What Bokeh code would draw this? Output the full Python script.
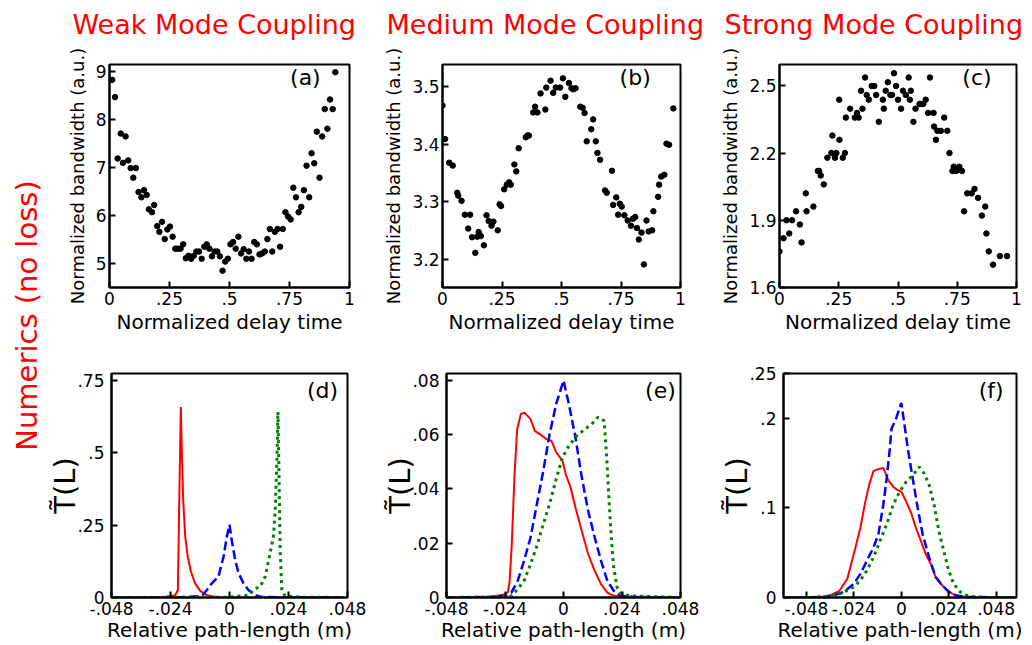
from bokeh.plotting import figure
from bokeh.models import FixedTicker, Label, Range1d, Title
from bokeh.layouts import row, column
from bokeh.embed import file_html
from bokeh.resources import INLINE

FONT = "DejaVu Sans"

# ---------------- data ----------------
col_titles = ["Weak Mode Coupling", "Medium Mode Coupling", "Strong Mode Coupling"]
row_title = "Numerics (no loss)"
panel_tags = ["(a)", "(b)", "(c)", "(d)", "(e)", "(f)"]

# (a) weak coupling scatter
a_x = [0.011, 0.023, 0.034, 0.047, 0.056, 0.067, 0.078, 0.088, 0.099, 0.110, 0.121, 0.133, 0.144, 0.155,
       0.164, 0.177, 0.186, 0.199, 0.208, 0.219, 0.230, 0.241, 0.252, 0.263, 0.274, 0.284, 0.296, 0.307,
       0.318, 0.329, 0.340, 0.351, 0.362, 0.373, 0.384, 0.395, 0.405, 0.416, 0.427, 0.438, 0.449, 0.460,
       0.471, 0.482, 0.493, 0.504, 0.515, 0.526, 0.537, 0.548, 0.559, 0.570, 0.581, 0.592, 0.603, 0.614,
       0.625, 0.636, 0.647, 0.658, 0.668, 0.678, 0.689, 0.700, 0.711, 0.722, 0.733, 0.744, 0.755, 0.766,
       0.777, 0.788, 0.799, 0.810, 0.821, 0.832, 0.842, 0.853, 0.864, 0.875, 0.886, 0.897, 0.908, 0.919,
       0.930, 0.941]
a_y = [8.83, 8.47, 7.19, 7.71, 7.10, 7.65, 7.15, 6.99, 6.79, 6.99, 6.49, 6.38, 6.53, 6.43,
       6.13, 6.07, 6.22, 5.78, 5.66, 5.87, 5.51, 5.71, 5.77, 5.56, 5.31, 5.31, 5.31, 5.40,
       5.11, 5.16, 5.10, 5.16, 5.25, 5.25, 5.10, 5.35, 5.40, 5.31, 5.15, 5.25, 5.25, 5.15,
       4.85, 5.04, 5.10, 5.40, 5.45, 5.31, 5.56, 5.21, 5.30, 5.10, 5.25, 5.10, 5.45, 5.40,
       5.19, 5.21, 5.25, 5.51, 5.72, 5.25, 5.66, 5.72, 5.35, 5.72, 6.07, 5.98, 5.92, 6.58,
       6.38, 6.07, 6.18, 6.53, 7.04, 6.38, 7.30, 7.09, 7.75, 6.79, 7.65, 8.22, 7.81, 8.42,
       8.22, 8.99]

# (b) medium coupling scatter
b_x = [0.000, 0.011, 0.028, 0.043, 0.062, 0.066, 0.080, 0.094, 0.108, 0.116, 0.124, 0.138, 0.146, 0.152,
       0.161, 0.174, 0.185, 0.194, 0.206, 0.214, 0.232, 0.240, 0.246, 0.259, 0.270, 0.280, 0.287, 0.302,
       0.310, 0.320, 0.350, 0.357, 0.363, 0.381, 0.389, 0.399, 0.412, 0.432, 0.436, 0.454, 0.465, 0.476,
       0.494, 0.506, 0.516, 0.531, 0.542, 0.549, 0.559, 0.579, 0.589, 0.597, 0.606, 0.625, 0.633, 0.644,
       0.651, 0.662, 0.683, 0.690, 0.712, 0.717, 0.730, 0.738, 0.745, 0.753, 0.764, 0.778, 0.792, 0.800,
       0.810, 0.817, 0.825, 0.836, 0.846, 0.857, 0.866, 0.881, 0.886, 0.906, 0.910, 0.919, 0.932, 0.941,
       0.952, 0.970]
b_y = [3.467, 3.409, 3.368, 3.363, 3.316, 3.311, 3.302, 3.278, 3.254, 3.278, 3.239, 3.212, 3.240, 3.248,
       3.241, 3.225, 3.277, 3.267, 3.259, 3.266, 3.251, 3.296, 3.293, 3.322, 3.330, 3.334, 3.330, 3.365,
       3.353, 3.393, 3.412, 3.415, 3.415, 3.455, 3.465, 3.455, 3.488, 3.460, 3.498, 3.510, 3.489, 3.498,
       3.498, 3.514, 3.482, 3.506, 3.497, 3.495, 3.497, 3.465, 3.463, 3.454, 3.405, 3.426, 3.443, 3.405,
       3.385, 3.373, 3.320, 3.316, 3.354, 3.295, 3.308, 3.278, 3.297, 3.292, 3.277, 3.268, 3.259, 3.271,
       3.274, 3.255, 3.235, 3.247, 3.192, 3.268, 3.249, 3.251, 3.284, 3.309, 3.330, 3.344, 3.347, 3.401,
       3.399, 3.462]

# (c) strong coupling scatter
c_x = [0.000, 0.017, 0.029, 0.041, 0.053, 0.070, 0.086, 0.093, 0.111, 0.114, 0.143, 0.162, 0.167, 0.174,
       0.187, 0.202, 0.219, 0.223, 0.234, 0.240, 0.253, 0.252, 0.267, 0.276, 0.280, 0.298, 0.318, 0.327,
       0.334, 0.344, 0.350, 0.361, 0.368, 0.377, 0.389, 0.400, 0.408, 0.419, 0.436, 0.440, 0.448, 0.457,
       0.468, 0.475, 0.483, 0.492, 0.500, 0.513, 0.521, 0.533, 0.545, 0.550, 0.554, 0.565, 0.574, 0.591,
       0.596, 0.607, 0.617, 0.627, 0.635, 0.650, 0.652, 0.660, 0.666, 0.681, 0.695, 0.708, 0.717, 0.730,
       0.735, 0.745, 0.759, 0.770, 0.779, 0.792, 0.811, 0.823, 0.838, 0.854, 0.868, 0.873, 0.883, 0.901,
       0.930, 0.960]
c_y = [1.761, 1.820, 1.900, 1.841, 1.900, 1.940, 1.881, 1.801, 2.020, 1.940, 1.961, 2.120, 2.120, 2.100,
       2.060, 2.179, 2.200, 2.278, 2.179, 2.200, 2.259, 2.438, 2.179, 2.200, 2.358, 2.398, 2.358, 2.379,
       2.358, 2.478, 2.398, 2.537, 2.459, 2.438, 2.499, 2.499, 2.459, 2.339, 2.438, 2.398, 2.478, 2.516,
       2.459, 2.459, 2.556, 2.499, 2.438, 2.398, 2.478, 2.459, 2.537, 2.438, 2.478, 2.339, 2.398, 2.419,
       2.419, 2.419, 2.438, 2.379, 2.537, 2.379, 2.318, 2.259, 2.299, 2.299, 2.358, 2.299, 2.200, 2.120,
       2.139, 2.120, 2.139, 2.120, 1.940, 2.020, 2.020, 2.040, 2.000, 1.921, 1.961, 1.841, 1.761, 1.702,
       1.740, 1.740]

# (d) weak coupling T(L)
d_red_x = [-0.048, -0.035, -0.026, -0.0221, -0.0210, -0.0205, -0.0198, -0.0194, -0.01885, -0.0180, -0.0170,
           -0.0157, -0.0140, -0.0119, -0.0092, -0.0072, -0.004, 0.0, 0.048]
d_red_y = [0.0, 0.001, 0.003, 0.008, 0.026, 0.30, 0.659, 0.51, 0.34, 0.21, 0.142,
           0.09, 0.049, 0.023, 0.008, 0.004, 0.001, 0.0, 0.0]
d_blue_x = [-0.048, -0.02, -0.0113, -0.0092, -0.0072, -0.0045, -0.0024, -0.0011, 0.0, 0.001, 0.0023,
            0.0037, 0.0057, 0.0077, 0.0104, 0.013, 0.02, 0.048]
d_blue_y = [0.0, 0.001, 0.005, 0.026, 0.049, 0.072, 0.142, 0.21, 0.252, 0.194, 0.130,
            0.084, 0.049, 0.026, 0.008, 0.002, 0.001, 0.0]
d_green_x = [-0.048, 0.0, 0.0077, 0.0104, 0.0125, 0.0145, 0.0165, 0.0179, 0.0186, 0.0193, 0.0197,
             0.0201, 0.0206, 0.0213, 0.0226, 0.03, 0.048]
d_green_y = [0.0, 0.001, 0.008, 0.031, 0.037, 0.072, 0.153, 0.212, 0.305, 0.479, 0.642,
             0.45, 0.165, 0.026, 0.005, 0.001, 0.0]

# (e) medium coupling T(L)
e_red_x = [-0.048, -0.03, -0.0247, -0.0228, -0.0221, -0.0212, -0.0201, -0.0190, -0.0175, -0.0160, -0.0135,
           -0.0118, -0.0096, -0.007, -0.005, -0.003, -0.0004, 0.0009, 0.0029, 0.0049, 0.0075, 0.0101,
           0.0128, 0.0154, 0.018, 0.0206, 0.03, 0.048]
e_red_y = [0.0, 0.0003, 0.001, 0.002, 0.006, 0.020, 0.045, 0.062, 0.0675, 0.068, 0.0656,
           0.0613, 0.060, 0.0583, 0.0577, 0.0534, 0.0503, 0.0454, 0.0405, 0.0331, 0.0245, 0.016,
           0.0098, 0.0049, 0.0018, 0.0006, 0.0, 0.0]
e_blue_x = [-0.048, -0.03, -0.024, -0.0214, -0.0188, -0.0162, -0.0135, -0.0109, -0.0083, -0.0057, -0.003,
            0.0, 0.0022, 0.0049, 0.0075, 0.0101, 0.0128, 0.0154, 0.018, 0.0206, 0.0233, 0.03, 0.048]
e_blue_y = [0.0, 0.0002, 0.0006, 0.0018, 0.0061, 0.0135, 0.0221, 0.0344, 0.0466, 0.0601, 0.0712,
            0.0798, 0.0712, 0.0589, 0.0442, 0.0319, 0.0221, 0.0135, 0.0061, 0.0025, 0.0006, 0.0002, 0.0]
e_green_x = [-0.048, -0.03, -0.0214, -0.0188, -0.0162, -0.0135, -0.0109, -0.0083, -0.0057, -0.003, -0.0004,
             0.0022, 0.0055, 0.0088, 0.0114, 0.0141, 0.0167, 0.0178, 0.0187, 0.0196, 0.0206, 0.022,
             0.0233, 0.0272, 0.048]
e_green_y = [0.0, 0.0002, 0.0006, 0.0031, 0.0061, 0.0123, 0.019, 0.027, 0.0344, 0.0436, 0.0515,
             0.0558, 0.0595, 0.062, 0.0636, 0.0663, 0.065, 0.0503, 0.0356, 0.0221, 0.011, 0.0037,
             0.0018, 0.0006, 0.0]

# (f) strong coupling T(L)
f_red_x = [-0.06, -0.0405, -0.0356, -0.0314, -0.0273, -0.0232, -0.0207, -0.0182, -0.0161, -0.0141, -0.0121,
           -0.0091, -0.0066, -0.0041, -0.0025, 0.0, 0.0025, 0.005, 0.0074, 0.0099, 0.0124, 0.0149,
           0.0174, 0.0199, 0.0223, 0.0257, 0.029, 0.034, 0.06]
f_red_y = [0.0, 0.0007, 0.0026, 0.0073, 0.0209, 0.0558, 0.0778, 0.107, 0.127, 0.141, 0.143,
           0.1446, 0.131, 0.1237, 0.1207, 0.118, 0.107, 0.0943, 0.0778, 0.0631, 0.0484, 0.0374,
           0.0228, 0.0154, 0.0099, 0.0044, 0.0015, 0.0, 0.0]
f_blue_x = [-0.06, -0.0405, -0.034, -0.029, -0.024, -0.0207, -0.0174, -0.0141, -0.0116, -0.0091, -0.0074,
            -0.0058, -0.005, -0.0025, 0.0, 0.0017, 0.0033, 0.0058, 0.0083, 0.0108, 0.0141, 0.0174,
            0.0207, 0.024, 0.0273, 0.0323, 0.06]
f_blue_y = [0.0, 0.0, 0.0026, 0.0062, 0.0154, 0.0264, 0.0411, 0.0558, 0.0705, 0.1035, 0.1328,
            0.1659, 0.188, 0.2007, 0.2172, 0.1916, 0.1659, 0.1328, 0.0998, 0.0705, 0.0448, 0.0228,
            0.0136, 0.0062, 0.0026, 0.0007, 0.0]
f_green_x = [-0.06, -0.0455, -0.0372, -0.0306, -0.024, -0.0207, -0.0174, -0.0141, -0.0108, -0.0074, -0.0041,
             -0.0008, 0.0025, 0.0058, 0.0091, 0.0116, 0.0141, 0.0166, 0.019, 0.0215, 0.024, 0.0265,
             0.0298, 0.0339, 0.0422, 0.06]
f_green_y = [0.0, 0.0, 0.0015, 0.0044, 0.0117, 0.0191, 0.0301, 0.0448, 0.0631, 0.0815, 0.1035,
             0.1182, 0.1292, 0.1365, 0.1457, 0.1383, 0.1255, 0.1035, 0.0741, 0.0521, 0.0301, 0.0154,
             0.0062, 0.0015, 0.0, 0.0]

# ticks
delay_ticks = [0, 0.25, 0.5, 0.75, 1]
delay_labels = ["0", ".25", ".5", ".75", "1"]
a_yticks = [5, 6, 7, 8, 9]
a_ylabels = ["5", "6", "7", "8", "9"]
b_yticks = [3.2, 3.3, 3.4, 3.5]
b_ylabels = ["3.2", "3.3", "3.4", "3.5"]
c_yticks = [1.6, 1.9, 2.2, 2.5]
c_ylabels = ["1.6", "1.9", "2.2", "2.5"]
path_ticks = [-0.048, -0.024, 0, 0.024, 0.048]
path_labels = ["-.048", "-.024", "0", ".024", ".048"]
d_yticks = [0, 0.25, 0.5, 0.75]
d_ylabels = ["0", ".25", ".5", ".75"]
e_yticks = [0, 0.02, 0.04, 0.06, 0.08]
e_ylabels = ["0", ".02", ".04", ".06", ".08"]
f_yticks = [0, 0.1, 0.2, 0.25]
f_ylabels = ["0", ".1", ".2", ".25"]

TOP_XLABEL = "Normalized delay time"
TOP_YLABEL = "Normalized bandwidth (a.u.)"
BOT_XLABEL = "Relative path-length (m)"
BOT_YLABEL = "T\u0303(L)"


def make_fig(w, h, bl, br, bt, bb, xr, yr):
    p = figure(width=w, height=h, min_border_left=bl, min_border_right=br,
               min_border_top=bt, min_border_bottom=bb,
               x_range=Range1d(*xr), y_range=Range1d(*yr),
               output_backend="svg", toolbar_location=None)
    p.grid.visible = False
    p.outline_line_color = "black"
    p.outline_line_width = 2
    p.outline_line_alpha = 1
    p.background_fill_color = "white"
    p.border_fill_color = "white"
    for ax in (p.xaxis[0], p.yaxis[0]):
        ax.axis_line_width = 2
        ax.axis_line_color = "black"
        ax.major_tick_in = 6
        ax.major_tick_out = 0
        ax.major_tick_line_width = 2
        ax.minor_tick_line_color = None
        ax.major_label_text_font = FONT
        ax.major_label_text_font_size = "17px"
        ax.major_label_text_color = "black"
        ax.axis_label_text_font = FONT
        ax.axis_label_text_font_style = "normal"
        ax.axis_label_text_color = "black"
    return p


def set_ticks(ax, ticks, labels):
    ax.ticker = FixedTicker(ticks=ticks)
    ax.major_label_overrides = {t: l for t, l in zip(ticks, labels)}


def add_tag(p, text, fx, fy):
    xr, yr = p.x_range, p.y_range
    p.add_layout(Label(x=xr.end - fx * (xr.end - xr.start), y=yr.end - fy * (yr.end - yr.start),
                       text=text, text_align="right", text_baseline="top",
                       text_font=FONT, text_font_size="22px", text_color="black"))


def top_panel(w, bl, br, xs, ys, yr, yticks, ylabels, title, toff, tag, tfx):
    p = make_fig(w, 345, bl, br, 64, 58, (0, 1), yr)
    # blank spacer between the frame and the column heading
    p.add_layout(Title(text=" ", text_font_size="1px", standoff=22), "above")
    p.title.text = title
    p.title.text_color = "red"
    p.title.text_font = FONT
    p.title.text_font_size = "27px"
    p.title.text_font_style = "normal"
    p.title.align = "left"
    p.title.vertical_align = "bottom"
    p.title.offset = toff
    p.title.standoff = 0
    p.scatter(xs, ys, size=5.5, color="black")
    set_ticks(p.xaxis[0], delay_ticks, delay_labels)
    set_ticks(p.yaxis[0], yticks, ylabels)
    p.xaxis.axis_label = TOP_XLABEL
    p.xaxis.axis_label_text_font_size = "20px"
    p.xaxis.major_label_standoff = 4
    p.xaxis.axis_label_standoff = 2
    p.yaxis.axis_label = TOP_YLABEL
    p.yaxis.axis_label_text_font_size = "18px"
    p.yaxis.major_label_standoff = 3
    p.yaxis.axis_label_standoff = 5
    add_tag(p, tag, tfx, 0.0)
    return p


def bot_panel(w, bl, br, xr, curves, yr, yticks, ylabels, tag, tfx, tfy):
    p = make_fig(w, 300, bl, br, 28, 48, xr, yr)
    rx, ry, bx, by, gx, gy = curves
    p.line(rx, ry, line_color="#ff0000", line_width=2)
    p.line(bx, by, line_color="#0000ff", line_width=2.5, line_dash="9 4")
    p.line(gx, gy, line_color="#008000", line_width=3, line_dash="3 4")
    set_ticks(p.xaxis[0], path_ticks, path_labels)
    set_ticks(p.yaxis[0], yticks, ylabels)
    p.xaxis.axis_label = BOT_XLABEL
    p.xaxis.axis_label_text_font_size = "20px"
    p.xaxis.major_label_standoff = 4
    p.xaxis.axis_label_standoff = 0
    p.yaxis.axis_label = BOT_YLABEL
    p.yaxis.axis_label_text_font_size = "29px"
    p.yaxis.major_label_standoff = 7
    p.yaxis.axis_label_standoff = -8
    add_tag(p, tag, tfx, tfy)
    return p


pa = top_panel(335, 64, 31, a_x, a_y, (4.5, 9.15), a_yticks, a_ylabels, col_titles[0], -37, panel_tags[0], 0.12)
pb = top_panel(337, 59, 37, b_x, b_y, (3.152, 3.538), b_yticks, b_ylabels, col_titles[1], -56, panel_tags[1], 0.125)
pc = top_panel(315, 60, 16, c_x, c_y, (1.6, 2.595), c_yticks, c_ylabels, col_titles[2], -55, panel_tags[2], 0.105)

pd = bot_panel(335, 63, 33, (-0.048, 0.048), (d_red_x, d_red_y, d_blue_x, d_blue_y, d_green_x, d_green_y),
               (0, 0.775), d_yticks, d_ylabels, panel_tags[3], 0.04, 0.02)
pe = bot_panel(337, 59, 37, (-0.048, 0.048), (e_red_x, e_red_y, e_blue_x, e_blue_y, e_green_x, e_green_y),
               (0, 0.0824), e_yticks, e_ylabels, panel_tags[4], 0.02, 0.02)
pf = bot_panel(315, 61, 16, (-0.0596, 0.0583), (f_red_x, f_red_y, f_blue_x, f_blue_y, f_green_x, f_green_y),
               (0, 0.25), f_yticks, f_ylabels, panel_tags[5], 0.055, 0.02)

strip = figure(width=45, height=645, min_border_left=43, min_border_right=0, min_border_top=0,
               min_border_bottom=15, x_axis_location=None, y_axis_location=None,
               title=row_title, title_location="left",
               output_backend="svg", toolbar_location=None)
strip.grid.visible = False
strip.outline_line_color = None
strip.title.text_color = "red"
strip.title.text_font = FONT
strip.title.text_font_size = "29px"
strip.title.text_font_style = "normal"
strip.title.align = "center"
strip.title.standoff = 0

layout = row(strip, column(row(pa, pb, pc), row(pd, pe, pf)))

open("out.html", "w").write(file_html(layout, INLINE))
